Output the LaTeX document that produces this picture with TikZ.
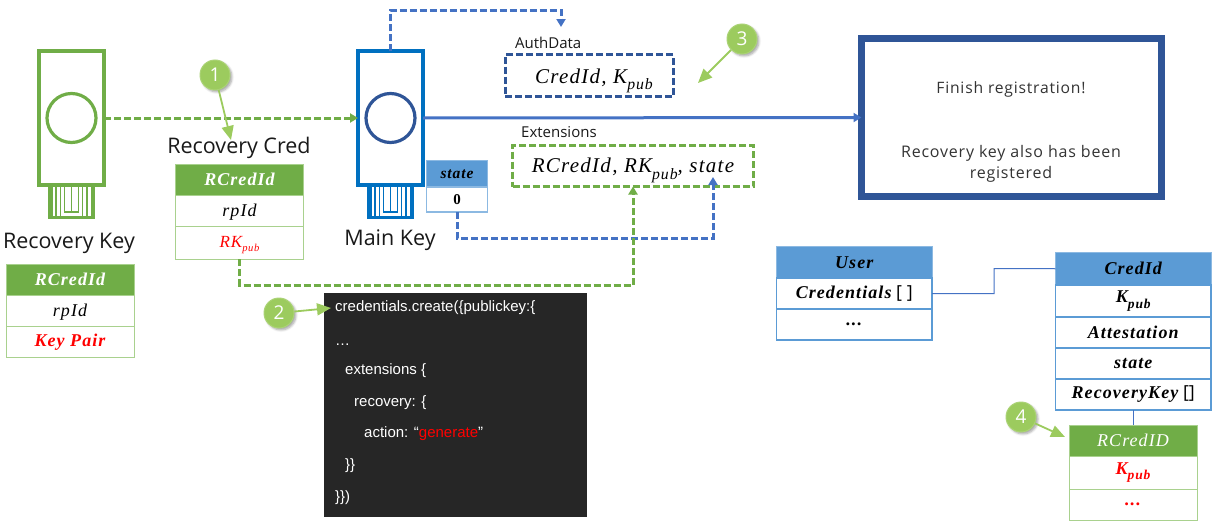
\documentclass[tikz,border=0pt]{standalone}
\usepackage{fontspec}
\setmainfont{Open Sans}
\newfontfamily\cm[LetterSpace=6]{Liberation Serif}
\newfontfamily\fint[LetterSpace=5]{Open Sans}
\newfontfamily\codef{Liberation Sans}
\usetikzlibrary{arrows.meta,shadows.blur}
\definecolor{gr}{HTML}{70AD47}
\definecolor{grl}{HTML}{A9D18E}
\definecolor{bluel}{HTML}{4472C4}
\definecolor{mk}{HTML}{0070C0}
\definecolor{dk}{HTML}{2F5597}
\definecolor{hb}{HTML}{5B9BD5}
\definecolor{co}{HTML}{9CCB5E}
\definecolor{cod}{HTML}{262626}
\newcommand\mi[1]{{\cm\itshape #1}}
\newcommand\mb[1]{{\cm\bfseries\itshape #1}}
\newcommand\sbs[1]{\raisebox{-0.3em}{\scalebox{0.75}{#1}}}
\newcommand\sbn[1]{\raisebox{-0.25em}{\scalebox{0.62}{#1}}}
\newcommand\base[2]{\raisebox{-#1pt}[0pt][0pt]{#2}}
\tikzset{
 x=1pt,y=-1pt,
 cellbase/.style={draw,rectangle,inner sep=0pt,outer sep=0pt,align=center,font=\fontsize{18}{20}\selectfont},
 grrow/.style={draw=grl,line width=1pt,text=black},
 grhead/.style={draw=grl,line width=1pt,fill=gr,text=white},
 blrow/.style={draw=hb,line width=1.2pt,text=black},
 blhead/.style={draw=hb!70,line width=1pt,fill=hb,text=black},
 gdash/.style={draw=gr,line width=3pt,dash pattern=on 7pt off 3pt},
 bluedash/.style={draw=bluel,line width=3pt,dash pattern=on 7pt off 3pt},
 ddash/.style={draw=dk,line width=3pt,dash pattern=on 7pt off 3pt},
 tip/.style={-{Triangle[length=8pt,width=9pt]}},
 bignote/.style={inner sep=0pt,font=\fontsize{21.5}{23}\selectfont,text=black!90},
 smalln/.style={inner sep=0pt,anchor=west,font=\fontsize{15}{17}\selectfont,text=black!90},
 callout/.style={circle,fill=co,draw=co!85!white,line width=1pt,minimum size=30pt,inner sep=0pt,text=white,
   font=\fontsize{19}{21}\selectfont,blur shadow={shadow xshift=2pt,shadow yshift=-2pt,shadow blur steps=6,shadow opacity=35}},
 callarrow/.style={draw=co,line width=1.8pt,-{Triangle[length=14pt,width=12pt]}},
 codeline/.style={inner sep=0pt,anchor=base west,text=white,font=\fontsize{15}{17}\selectfont\codef},
 finl/.style={inner sep=0pt,text=black!80,font=\fontsize{15.7}{17}\selectfont\fint},
}
% cell: name, x1, y1, x2, y2, style, text
\newcommand\cell[7]{%
 \pgfmathsetmacro\cxx{(#2+#4)/2}\pgfmathsetmacro\cyy{(#3+#5)/2}%
 \pgfmathsetmacro\cww{#4-#2}\pgfmathsetmacro\chh{#5-#3}%
 \node[cellbase,#6,minimum width=\cww pt,minimum height=\chh pt] (#1) at (\cxx,\cyy) {#7};}
% key icon: name, centre x, body colour, ring colour
\newcommand\keyicon[4]{%
 \node[draw=#3,line width=4pt,rectangle,outer sep=0pt,inner sep=0pt,minimum width=65pt,minimum height=134pt] (#1) at (#2,118) {};
 \node[draw=#4,line width=3.2pt,circle,inner sep=0pt,minimum size=49pt] (#1ring) at (#2,118) {};
 \begin{scope}[shift={(#2-23.5,187)}]
  \fill[#3] (0,0) rectangle (4.5,32);
  \fill[#3] (42.5,0) rectangle (47,32);
  \fill[#3] (0,28.5) rectangle (47,32);
  \draw[#3,line width=1.5pt] (8,0)--(8,29) (12.5,0)--(12.5,29) (34.5,0)--(34.5,29) (39,0)--(39,29);
  \draw[#3,line width=1.3pt] (16.5,0)--(16.5,25)--(30.5,25)--(30.5,0) (23.5,0)--(23.5,25);
 \end{scope}}
\begin{document}
\begin{tikzpicture}
\useasboundingbox (0,0) rectangle (1223,530);
% keys
\keyicon{rk}{71.5}{gr}{gr}
\keyicon{mainkey}{390.5}{mk}{dk}
\node[bignote] (rklabel) at (69,243) {Recovery Key};
\node[bignote] (mklabel) at (390,240) {Main Key};
\node[bignote] (rclabel) at (239,148) {Recovery Cred};
% recovery key table
\cell{a1}{6}{264}{134}{295}{grhead}{\mb{RCredId}}
\cell{a2}{6}{295}{134}{326}{grrow}{\base{5.5}{\mi{rpId}}}
\cell{a3}{6}{326}{134}{357.5}{grrow}{\textcolor{red}{\mb{Key Pair}}}
% recovery cred table
\cell{r1}{175.5}{164}{303.5}{195}{grhead}{\mb{RCredId}}
\cell{r2}{175.5}{195}{303.5}{226}{grrow}{\base{5.5}{\mi{rpId}}}
\cell{r3}{175.5}{226}{303.5}{259}{grrow,font=\fontsize{17}{19}\selectfont}{\base{4.5}{\textcolor{red}{\mi{RK\sbn{pub}}}}}
% state table
\cell{s1}{426.5}{160.5}{487.5}{187}{blhead,font=\fontsize{15.5}{17}\selectfont}{\mb{state}}
\cell{s2}{426.5}{187}{487.5}{212}{blrow,draw=hb!70,font=\fontsize{15}{17}\selectfont}{{\cm\bfseries 0}}
% dashed boxes
\node[smalln] (authl) at (515,43) {AuthData};
\cell{auth}{505}{54.5}{673}{96.5}{ddash,font=\fontsize{21}{23}\selectfont}{\hspace*{10pt}\base{7.5}{\mi{CredId, K\sbs{pub}}}}
\node[smalln] (extl) at (521,132) {Extensions};
\cell{ext}{512.5}{145}{753.5}{186.5}{gdash,font=\fontsize{21}{23}\selectfont}{\base{7}{\mi{RCredId, RK\sbs{pub}, state}}}
% finish box
\cell{fin}{861.5}{38.5}{1161.5}{196.5}{draw=dk,line width=7pt}{}
\node[finl] (f1) at (1011,89) {Finish registration!};
\node[finl,align=center,font=\fontsize{16}{21}\selectfont\fint] (f2) at (1011,164) {Recovery key also has been\\registered};
% free ends
\coordinate (authin) at (561,27);
\coordinate (stin) at (713,177);
% connectors
\draw[gdash,tip] (rk.east) -- (mainkey.west);
\draw[draw=bluel,line width=3pt,tip] (mainkey.east) -- (fin.west);
\draw[bluedash,tip] (mainkey.north) -- ++(0,-41) -| (authin);
\draw[bluedash,tip] (s2.south) -- ++(0,26) -| (stin);
\draw[gdash,tip] (r3.south) -- ++(0,26) -| (ext.south);
% code
\node[fill=cod,minimum width=263pt,minimum height=224pt,inner sep=0pt,outer sep=0pt] (code) at (455.5,405) {};
\node[codeline] (c1) at (335,311) {credentials.create(\{publickey:\{};
\node[codeline] (c2) at (335,345) {…};
\node[codeline] (c3) at (345,374) {extensions \{};
\node[codeline] (c4) at (354,406) {recovery: \{};
\node[codeline] (c5) at (364,437) {action: “\textcolor{red}{generate}”};
\node[codeline] (c6) at (345,469) {\}\}};
\node[codeline] (c7) at (335,501) {\}\})};
% user tables
\cell{u1}{776.5}{246.5}{932}{278}{blhead}{\mb{User}}
\cell{u2}{776.5}{278}{932}{309}{blrow}{\mb{Credentials} [ ]}
\cell{u3}{776.5}{309}{932}{340}{blrow}{\mb{...}}
\cell{k1}{1055.5}{252.5}{1211}{285}{blhead}{\mb{CredId}}
\cell{k2}{1055.5}{285}{1211}{317}{blrow}{\mb{K\sbs{pub}}}
\cell{k3}{1055.5}{317}{1211}{348}{blrow}{\mb{Attestation}}
\cell{k4}{1055.5}{348}{1211}{379}{blrow}{\mb{state}}
\cell{k5}{1055.5}{379}{1211}{410}{blrow}{\mb{RecoveryKey} []}
\cell{q1}{1069}{425}{1197}{456}{grhead}{\mi{RCredID}}
\cell{q2}{1069}{456}{1197}{489}{grrow}{\textcolor{red}{\mb{K\sbs{pub}}}}
\cell{q3}{1069}{489}{1197}{520}{grrow}{\textcolor{red}{\mb{...}}}
\draw[bluel,line width=1pt] (u2.east) -- (994,293.5) -- (994,268.5) -- (k1.west);
\draw[bluel,line width=1pt] (k5.south -| q1.north) -- (q1.north);
% callouts
\coordinate (t1) at (231,140);
\coordinate (t2) at (331,308);
\coordinate (t3) at (698,83);
\coordinate (t4) at (1065,437);
\node[callout] (n1) at (215,75) {1};
\node[callout] (n2) at (279,313) {2};
\node[callout] (n3) at (742,39) {3};
\node[callout] (n4) at (1021,417) {4};
\draw[callarrow] (n1) -- (t1);
\draw[callarrow] (n2) -- (t2);
\draw[callarrow] (n3) -- (t3);
\draw[callarrow] (n4) -- (t4);
\end{tikzpicture}
\end{document}
